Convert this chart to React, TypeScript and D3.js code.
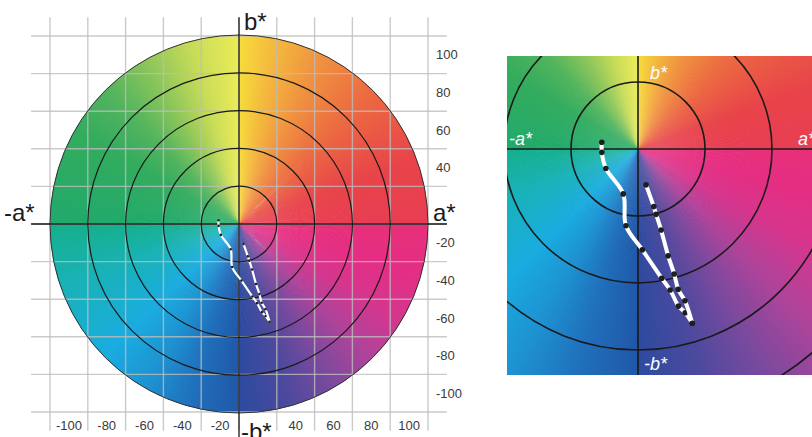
import React from 'react';
import * as d3 from 'd3';

const W = 812;
const H = 437;

// hue wheel: angle (deg, counter-clockwise from +a*) -> colour, one gradient per quadrant
const hueAngles = [0, 20, 45, 65, 80, 90, 90, 105, 120, 135, 150, 180, 180, 200, 225, 240, 255, 270, 270, 285, 300, 315, 330, 345, 360];
const hueColors = [
  '#e83e54', '#e8444a', '#ec6a42', '#f09440', '#f4bc3e', '#f6dc3c',
  '#ecec58', '#c8dc58', '#8cc65a', '#52b45e', '#34ac5e', '#22aa6c',
  '#16b08c', '#1ab2b8', '#1aace0', '#1e94d2', '#2070bc', '#2058a8',
  '#2c4ba0', '#4a4a9e', '#7a4a9e', '#b0449a', '#d6368e', '#e42f84', '#e8307a',
];

const ringValues = [20, 40, 60, 80, 100];
const gridValues = [-100, -80, -60, -40, -20, 0, 20, 40, 60, 80, 100];
const xTickLabels = [-100, -80, -60, -40, -20, 40, 60, 80, 100];
const yTickLabels = [100, 80, 60, 40, -20, -40, -60, -80, -100];
const zoomRings = [20, 40, 60, 80];

// measured (a*, b*) points
const pathA: [number, number][] = [
  [-10.8, 2.0], [-10.8, -1.0], [-9.6, -5.8], [-4.4, -13.4], [-3.6, -22.9],
  [1.3, -30.1], [7.1, -38.6], [9.6, -42.1], [12.1, -46.9], [14.1, -48.9], [16.2, -52.0],
];
const pathB: [number, number][] = [
  [2.4, -10.7], [4.7, -17.2], [5.4, -19.5], [6.9, -24.2], [9.0, -31.9],
  [10.8, -37.3], [12.0, -41.9], [14.0, -45.3], [16.2, -52.0],
];

const hueScale = d3.scaleLinear<string>()
  .domain(hueAngles)
  .range(hueColors)
  .interpolate(d3.interpolateRgb);

const steps = d3.range(0, 360, 0.5);
const rad = Math.PI / 180;

function wedges(r: number) {
  const arc = d3.arc();
  return steps.map((t) => ({
    d: arc({
      innerRadius: 0,
      outerRadius: r,
      startAngle: (90 - t - 0.5 - 0.2) * rad,
      endAngle: (90 - t + 0.2) * rad,
    } as any) as string,
    fill: hueScale(t + 0.25),
  }));
}

const font = '"Liberation Sans", Arial, Helvetica, sans-serif';

function Trace({ pts, x, y, width, dot }: { pts: [number, number][]; x: any; y: any; width: number; dot: number }) {
  const line = d3.line<[number, number]>()
    .x((d) => x(d[0]))
    .y((d) => y(d[1]))
    .curve(d3.curveCatmullRom.alpha(0.5));
  return (
    <g>
      <path d={line(pts) as string} fill="none" stroke="white" strokeWidth={width} strokeLinecap="round" strokeLinejoin="round" />
      {pts.map((p, i) => (
        <circle key={i} cx={x(p[0])} cy={y(p[1])} r={dot} fill="#1e1e1e" />
      ))}
    </g>
  );
}

function LeftChart() {
  const x = d3.scaleLinear().domain([-100, 100]).range([50, 428]);
  const y = d3.scaleLinear().domain([-100, 100]).range([412, 36]);
  const cx = x(0), cy = y(0);
  const R = x(100) - cx;
  const k = R / 100;

  return (
    <g>
      <g transform={`translate(${cx},${cy})`}>
        {wedges(R).map((w, i) => (
          <path key={i} d={w.d} fill={w.fill} />
        ))}
      </g>
      {/* grid */}
      <g stroke="#bdbdbd" strokeOpacity={0.8} strokeWidth={1.4}>
        {gridValues.map((v) => (
          <line key={'v' + v} x1={x(v)} x2={x(v)} y1={y(110)} y2={y(-110)} />
        ))}
        {gridValues.map((v) => (
          <line key={'h' + v} x1={x(-110)} x2={x(110)} y1={y(v)} y2={y(v)} />
        ))}
      </g>
      {/* rings */}
      {ringValues.map((r) => (
        <circle key={r} cx={cx} cy={cy} r={r * k} fill="none"
          stroke={r === 100 ? '#333' : '#1a1a1a'} strokeWidth={r === 100 ? 1 : 1.2} />
      ))}
      {/* axes */}
      <line x1={x(-110)} x2={x(110)} y1={cy} y2={cy} stroke="#1a1a1a" strokeWidth={1.3} />
      <line x1={cx} x2={cx} y1={y(110)} y2={H} stroke="#1a1a1a" strokeWidth={1.3} />

      <Trace pts={pathA} x={x} y={y} width={2.2} dot={1.3} />
      <Trace pts={pathB} x={x} y={y} width={2.2} dot={1.3} />

      {/* tick labels */}
      <g fontFamily={font} fontSize={13} fill="#3a3a3a">
        {xTickLabels.map((v) => (
          <text key={'x' + v} x={x(v - 10 * Math.sign(v))} y={430} textAnchor="middle">{v}</text>
        ))}
        {yTickLabels.map((v) => (
          <text key={'y' + v} x={436} y={y(v - 10 * Math.sign(v))} dy="0.35em">{v}</text>
        ))}
      </g>
      <g fontFamily={font} fontSize={24} fill="#1a1a1a">
        <text x={244} y={30}>b*</text>
        <text x={4} y={221}>-a*</text>
        <text x={433} y={221}>a*</text>
        <text x={241} y={440}>-b*</text>
      </g>
    </g>
  );
}

function RightChart() {
  const cx = 638, cy = 149;
  const k = 67 / 20;
  const x = d3.scaleLinear().domain([0, 20]).range([cx, cx + 20 * k]);
  const y = d3.scaleLinear().domain([0, 20]).range([cy, cy - 20 * k]);
  const left = 507, top = 56, bottom = 375;

  return (
    <g>
      <defs>
        <clipPath id="zoomClip">
          <rect x={left} y={top} width={W - left + 10} height={bottom - top} />
        </clipPath>
      </defs>
      <g clipPath="url(#zoomClip)">
        <g transform={`translate(${cx},${cy})`}>
          {wedges(420).map((w, i) => (
            <path key={i} d={w.d} fill={w.fill} />
          ))}
        </g>
        {zoomRings.map((r) => (
          <circle key={r} cx={cx} cy={cy} r={r * k} fill="none" stroke="#1a1a1a" strokeWidth={1.6} />
        ))}
        <line x1={left} x2={W + 10} y1={cy} y2={cy} stroke="#1a1a1a" strokeWidth={1.6} />
        <line x1={cx} x2={cx} y1={top} y2={bottom} stroke="#1a1a1a" strokeWidth={1.6} />

        <Trace pts={pathA} x={x} y={y} width={4} dot={2.8} />
        <Trace pts={pathB} x={x} y={y} width={4} dot={2.8} />

        <g fontFamily={font} fontSize={18} fill="white" fontStyle="italic">
          <text x={650} y={79}>b*</text>
          <text x={509} y={145}>-a*</text>
          <text x={798} y={145}>a*</text>
          <text x={644} y={370}>-b*</text>
        </g>
      </g>
    </g>
  );
}

export default function App() {
  return (
    <svg width={W} height={H} viewBox={`0 0 ${W} ${H}`}
      style={{ position: 'absolute', left: 0, top: 0, background: 'white' }}>
      <LeftChart />
      <RightChart />
    </svg>
  );
}
